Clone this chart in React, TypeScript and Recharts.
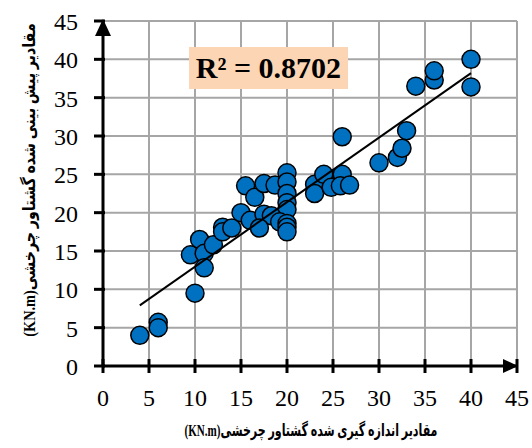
import { CartesianGrid, ReferenceDot, Scatter, ScatterChart, XAxis, YAxis } from 'recharts'

// measured torque (x) vs predicted torque (y), KN.m
const measured = [
  4, 6, 6, 10, 9.5, 10.5, 11, 11, 12, 13, 13, 14, 15, 15.5, 16, 16.5, 17.5, 18.7, 20, 20, 20, 20, 20,
  17.5, 18.3, 17, 19.2, 20, 20, 20, 23, 23, 24, 24.8, 26, 25.8, 26.8, 26, 30, 32, 32.5, 33, 34, 36, 36,
  40, 40,
]
const predicted = [
  4.0, 5.7, 5.0, 9.5, 14.5, 16.5, 14.7, 12.8, 15.8, 18.1, 17.5, 18, 20, 23.5, 19, 22, 23.8, 23.6, 25.2,
  24, 22.5, 21.3, 20.4, 19.8, 19.6, 18, 18.8, 18.6, 18.1, 17.5, 23.7, 22.5, 25, 23.3, 25, 23.5, 23.6,
  29.9, 26.5, 27.2, 28.4, 30.7, 36.5, 37.3, 38.5, 40, 36.4,
]

// linear trendline end points
const trendX = [4, 40]
const trendY = [7.9, 38.2]

const axisTicks = [0, 5, 10, 15, 20, 25, 30, 35, 40, 45]

const points = measured.map((x, i) => ({ x, y: predicted[i] }))
const trend = trendX.map((x, i) => ({ x, y: trendY[i] }))

const serif = 'Liberation Serif, Times New Roman, Times, serif'
const titleFont = 'Liberation Serif, DejaVu Sans, serif'

function XTick({ x, y, payload }: any) {
  return (
    <g>
      <line x1={x} x2={x} y1={y - 30} y2={y - 16} stroke="#000" strokeWidth={3} />
      <text x={x} y={y} dy="0.71em" textAnchor="middle" fontSize={24} style={{ fontFamily: serif }} fill="#000">
        {payload.value}
      </text>
    </g>
  )
}

function YTick({ x, y, payload }: any) {
  return (
    <g>
      <line x1={x + 16} x2={x + 27} y1={y} y2={y} stroke="#000" strokeWidth={3} />
      <text x={x} y={y} dy="0.38em" textAnchor="end" fontSize={24} style={{ fontFamily: serif }} fill="#000">
        {payload.value}
      </text>
    </g>
  )
}

const Marker = (p: any) => (
  <circle cx={p.cx} cy={p.cy} r={9} fill="#0070c0" stroke="#000" strokeWidth={1.5} />
)

export default function App() {
  return (
    <div style={{ position: 'absolute', left: 0, top: 0, width: 532, height: 448, background: '#fff' }}>
      <ScatterChart width={532} height={448} margin={{ top: 21, right: 15, left: 0, bottom: 0 }}>
        <CartesianGrid stroke="#a6a6a6" strokeWidth={2} />
        <XAxis
          type="number"
          dataKey="x"
          domain={[0, 45]}
          ticks={axisTicks}
          interval={0}
          height={82}
          axisLine={{ stroke: '#000', strokeWidth: 3 }}
          tickLine={false}
          tickSize={0}
          tickMargin={23}
          tick={<XTick />}
        />
        <YAxis
          type="number"
          dataKey="y"
          domain={[0, 45]}
          ticks={axisTicks}
          interval={0}
          width={103}
          axisLine={{ stroke: '#000', strokeWidth: 3 }}
          tickLine={false}
          tickSize={0}
          tickMargin={25}
          tick={<YTick />}
        />
        <Scatter data={points} shape={Marker} isAnimationActive={false} />
        <Scatter
          data={trend}
          line={{ stroke: '#000', strokeWidth: 2 }}
          shape={() => <g />}
          isAnimationActive={false}
        />
        <ReferenceDot
          x={0}
          y={45}
          ifOverflow="visible"
          shape={(p: any) => (
            <polygon points={`${p.cx},${p.cy - 2} ${p.cx - 8},${p.cy + 15} ${p.cx + 8},${p.cy + 15}`} fill="#000" />
          )}
        />
        <ReferenceDot
          x={45}
          y={0}
          ifOverflow="visible"
          shape={(p: any) => (
            <polygon points={`${p.cx + 1},${p.cy} ${p.cx - 14},${p.cy - 7} ${p.cx - 14},${p.cy + 7}`} fill="#000" />
          )}
        />
      </ScatterChart>

      <div
        style={{
          position: 'absolute',
          left: 189,
          top: 47,
          width: 159,
          height: 42,
          background: '#fcd5b4',
          display: 'flex',
          alignItems: 'center',
          justifyContent: 'center',
          fontFamily: serif,
          fontWeight: 'bold',
          fontSize: 30,
          color: '#000',
        }}
      >
        R² = 0.8702
      </div>

      <div
        style={{
          position: 'absolute',
          left: 311,
          top: 430,
          transform: 'translate(-50%, -50%) scale(0.65, 1)',
          whiteSpace: 'nowrap',
          direction: 'rtl',
          fontFamily: titleFont,
          fontWeight: 'bold',
          fontSize: 17,
          color: '#000',
        }}
      >
        مقادیر اندازه گیری شده گشتاور چرخشی(KN.m)
      </div>

      <div
        style={{
          position: 'absolute',
          left: 29,
          top: 180,
          transform: 'translate(-50%, -50%) rotate(-90deg) scale(0.84, 1)',
          whiteSpace: 'nowrap',
          direction: 'rtl',
          fontFamily: titleFont,
          fontWeight: 'bold',
          fontSize: 17,
          color: '#000',
        }}
      >
        مقادیر پیش بینی شده گشتاور چرخشی(KN.m)
      </div>
    </div>
  )
}
